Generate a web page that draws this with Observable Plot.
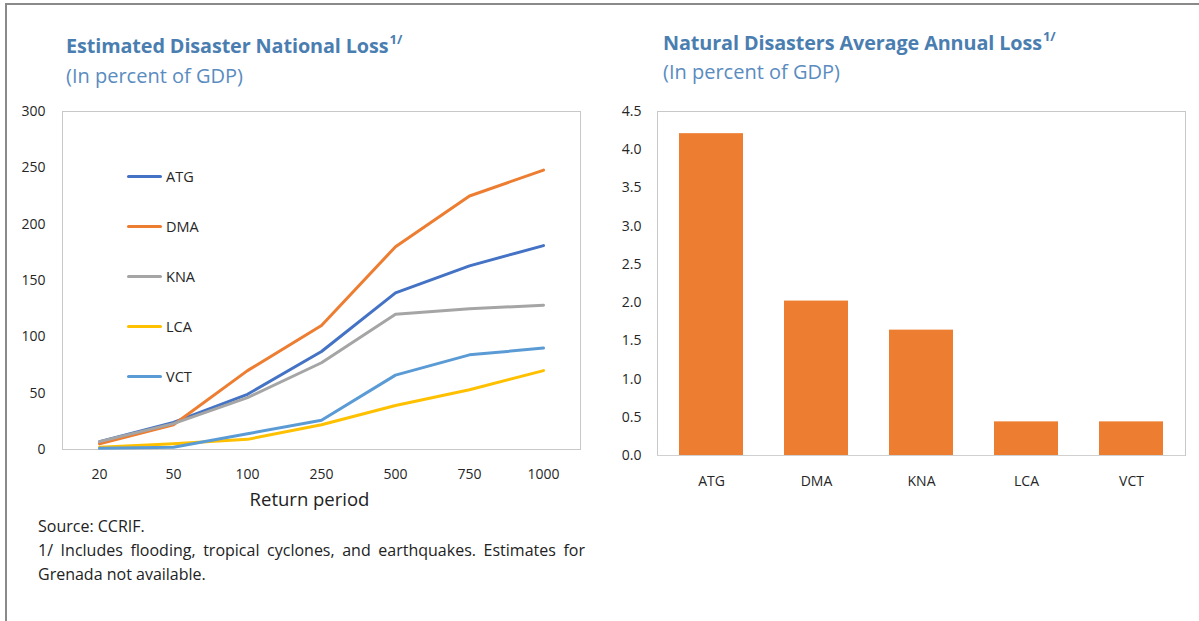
<!DOCTYPE html>
<html>
<head>
<meta charset="utf-8">
<script src="https://cdn.jsdelivr.net/npm/d3@7"></script>
<script src="https://cdn.jsdelivr.net/npm/@observablehq/plot@0.6"></script>
<style>
  html, body { margin: 0; padding: 0; background: #fff; }
  #page { position: relative; width: 1199px; height: 621px; overflow: hidden; font-family: "Open Sans", "Noto Sans", sans-serif; color: #222; }
  #border { position: absolute; left: 5px; top: 3px; right: -10px; bottom: -10px; border-left: 2px solid #8a8a8a; border-top: 2px solid #8a8a8a; }
  .title { position: absolute; font-weight: 700; font-size: 19.8px; color: #4a7eb0; letter-spacing: -0.1px; white-space: nowrap; }
  .title sup { font-size: 13px; position: relative; top: -2px; vertical-align: top; letter-spacing: 0; margin-left: 1px; }
  .subtitle { position: absolute; font-size: 20px; color: #5a8cc0; white-space: nowrap; }
  .chart { position: absolute; }
  .chart svg { overflow: visible; }
  #legend { position: absolute; left: 127px; top: 151px; font-size: 14.5px; color: #262626; }
  #legend .item { height: 50px; display: flex; align-items: center; }
  #legend .sw { width: 35px; height: 3px; border-radius: 2px; margin-right: 4px; }
  #notes { position: absolute; left: 38px; top: 514px; width: 547px; font-size: 16px; line-height: 24px; color: #222; }
  #notes .just { text-align: justify; text-align-last: justify; white-space: nowrap; }
</style>
</head>
<body>
<div id="page">
  <div id="border"></div>
  <div class="title" style="left:66px; top:32px;">Estimated Disaster National Loss<sup>1/</sup></div>
  <div class="subtitle" style="left:66px; top:62px;">(In percent of GDP)</div>
  <div class="title" style="left:663px; top:29px;">Natural Disasters Average Annual Loss<sup>1/</sup></div>
  <div class="subtitle" style="left:663px; top:58px;">(In percent of GDP)</div>
  <div id="left" class="chart" style="left:0px; top:90px;"></div>
  <div id="right" class="chart" style="left:600px; top:90px;"></div>
  <div id="legend"></div>
  <div id="notes">
    <div>Source: CCRIF.</div>
    <div class="just">1/ Includes flooding, tropical cyclones, and earthquakes. Estimates for</div>
    <div>Grenada not available.</div>
  </div>
</div>
<script>
// ---- Data ----
const returnPeriods = ["20", "50", "100", "250", "500", "750", "1000"];
const countries = ["ATG", "DMA", "KNA", "LCA", "VCT"];
const ATG = [7, 24, 49, 87, 139, 163, 181];
const DMA = [5, 22, 70, 110, 180, 225, 248];
const KNA = [7, 23, 46, 77, 120, 125, 128];
const LCA = [2, 5, 9, 22, 39, 53, 70];
const VCT = [1, 2, 14, 26, 66, 84, 90];
const averageAnnualLoss = [4.21, 2.02, 1.64, 0.44, 0.44];
const lineColors = ["#4472c4", "#ed7d31", "#a5a5a5", "#ffc000", "#5b9bd5"];
const yTicksLeft = [0, 50, 100, 150, 200, 250, 300];
const yTicksRight = [0, 0.5, 1, 1.5, 2, 2.5, 3, 3.5, 4, 4.5];

const seriesValues = {ATG, DMA, KNA, LCA, VCT};
const lineData = countries.flatMap(c => returnPeriods.map((p, i) => ({country: c, period: p, value: seriesValues[c][i]})));
const barData = countries.map((c, i) => ({country: c, value: averageAnnualLoss[i]}));

const fontFamily = '"Open Sans", "Noto Sans", sans-serif';

// ---- Left: line chart ----
const left = Plot.plot({
  width: 600,
  height: 430,
  marginLeft: 62,
  marginRight: 20,
  marginTop: 21,
  marginBottom: 71,
  style: {fontFamily, fontSize: "14px", color: "#262626", background: "transparent"},
  x: {type: "point", domain: returnPeriods, padding: 0.5},
  y: {domain: [0, 300]},
  color: {domain: countries, range: lineColors},
  marks: [
    Plot.frame({stroke: "#c8c8c8"}),
    Plot.line(lineData, {x: "period", y: "value", z: "country", stroke: "country", strokeWidth: 3, strokeLinejoin: "round", strokeLinecap: "round"}),
    Plot.axisY({ticks: yTicksLeft, tickSize: 0, tickPadding: 17, label: null}),
    Plot.axisX({tickSize: 0, tickPadding: 20, label: "Return period", labelAnchor: "center", labelArrow: false, labelOffset: 56})
  ]
});
document.getElementById("left").appendChild(left);

// ---- Right: bar chart ----
const right = Plot.plot({
  width: 599,
  height: 430,
  marginLeft: 57,
  marginRight: 14,
  marginTop: 21,
  marginBottom: 65,
  style: {fontFamily, fontSize: "14px", color: "#262626", background: "transparent"},
  x: {type: "band", domain: countries, paddingInner: 0.39, paddingOuter: 0.195},
  y: {domain: [0, 4.5]},
  marks: [
    Plot.frame({stroke: "#c8c8c8"}),
    Plot.barY(barData, {x: "country", y: "value", fill: "#ed7d31"}),
    Plot.ruleY([0], {stroke: "#d0d0d0"}),
    Plot.axisY({ticks: yTicksRight, tickFormat: d3.format(".1f"), tickSize: 0, tickPadding: 16, label: null}),
    Plot.axisX({tickSize: 0, tickPadding: 21, label: null})
  ]
});
document.getElementById("right").appendChild(right);

// ---- Legend (HTML) ----
const legend = document.getElementById("legend");
countries.forEach((c, i) => {
  const item = document.createElement("div");
  item.className = "item";
  const sw = document.createElement("span");
  sw.className = "sw";
  sw.style.background = lineColors[i];
  const tx = document.createElement("span");
  tx.textContent = c;
  item.appendChild(sw);
  item.appendChild(tx);
  legend.appendChild(item);
});

// style the x-axis label
const lab = left.querySelector('[aria-label="x-axis label"]');
if (lab) {
  lab.style.fontSize = "18.5px";
  lab.setAttribute("fill", "#222");
  lab.querySelectorAll("text").forEach(t => t.setAttribute("dx", "-12"));
}
</script>
</body>
</html>
